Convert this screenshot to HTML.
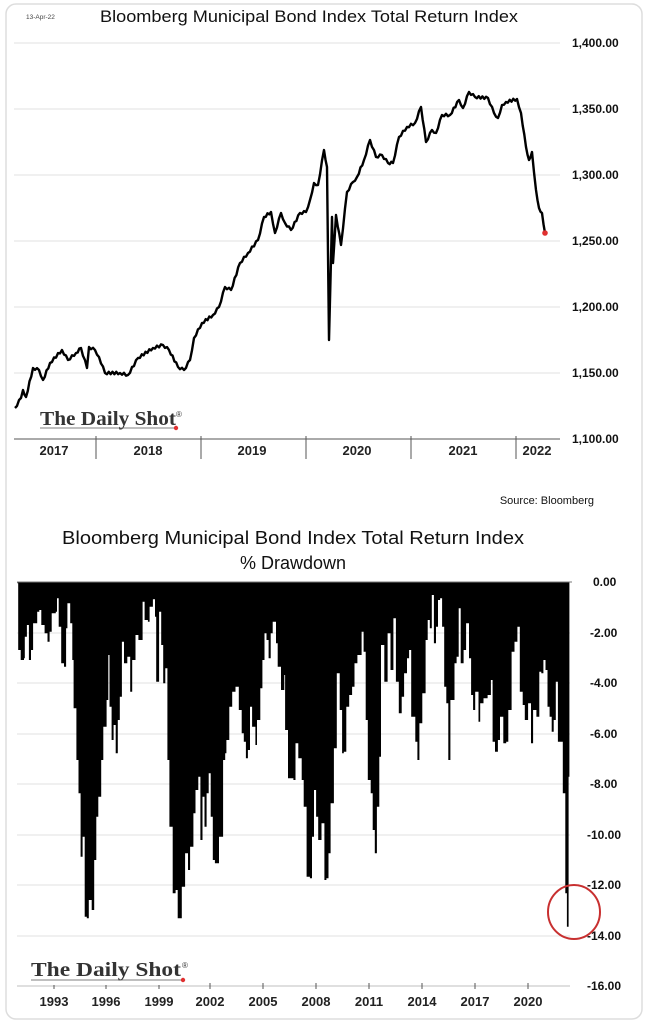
<!DOCTYPE html><html><head><meta charset="utf-8"><style>
body{margin:0;background:#fff;}
svg{display:block;font-family:"Liberation Sans",sans-serif;}
</style></head><body>
<svg id="s" width="648" height="1024" viewBox="0 0 648 1024" xmlns="http://www.w3.org/2000/svg">
<rect x="6" y="4" width="636" height="1015" rx="10" fill="#fff" stroke="#ddd" stroke-width="1.5"/>
<text x="26" y="19" font-size="6.5" fill="#444">13-Apr-22</text>
<text x="309" y="22" font-size="17" text-anchor="middle" fill="#111" textLength="418" lengthAdjust="spacingAndGlyphs">Bloomberg Municipal Bond Index Total Return Index</text>
<g stroke="#e6e6e6" stroke-width="1.2">
<line x1="14" x2="560" y1="43" y2="43"/><line x1="14" x2="560" y1="109" y2="109"/><line x1="14" x2="560" y1="175" y2="175"/><line x1="14" x2="560" y1="241" y2="241"/><line x1="14" x2="560" y1="307" y2="307"/><line x1="14" x2="560" y1="373" y2="373"/>
</g>
<g font-size="12" fill="#111" font-weight="bold">
<text x="572" y="47">1,400.00</text><text x="572" y="113">1,350.00</text><text x="572" y="179">1,300.00</text><text x="572" y="245">1,250.00</text><text x="572" y="311">1,200.00</text><text x="572" y="377">1,150.00</text><text x="572" y="443">1,100.00</text>
</g>
<line x1="14" x2="560" y1="439" y2="439" stroke="#555" stroke-width="1"/>
<g stroke="#555" stroke-width="1"><line x1="96" x2="96" y1="436" y2="459"/><line x1="201" x2="201" y1="436" y2="459"/><line x1="306" x2="306" y1="436" y2="459"/><line x1="411" x2="411" y1="436" y2="459"/><line x1="516" x2="516" y1="436" y2="459"/></g>
<g font-size="13" font-weight="bold" fill="#222" text-anchor="middle">
<text x="54" y="455">2017</text><text x="148" y="455">2018</text><text x="252" y="455">2019</text><text x="357" y="455">2020</text><text x="463" y="455">2021</text><text x="537" y="455">2022</text>
</g>
<polyline id="l1" fill="none" stroke="#000" stroke-width="2.4" stroke-linejoin="round"/>
<circle cx="545" cy="233" r="2.8" fill="#e03030"/>
<text x="40" y="425" font-family="Liberation Serif,serif" font-size="20" font-weight="bold" fill="#333" textLength="136" lengthAdjust="spacingAndGlyphs">The Daily Shot</text>
<text x="176" y="417" font-size="8" fill="#333">®</text>
<line x1="40" x2="176" y1="428" y2="428" stroke="#555" stroke-width="0.8"/>
<circle cx="176" cy="428" r="2.2" fill="#e03030"/>

<text x="594" y="504" font-size="11" text-anchor="end" fill="#111">Source: Bloomberg</text>
<text x="293" y="544" font-size="18" text-anchor="middle" fill="#111" textLength="462" lengthAdjust="spacingAndGlyphs">Bloomberg Municipal Bond Index Total Return Index</text>
<text x="293" y="569" font-size="18" text-anchor="middle" fill="#111">% Drawdown</text>
<g stroke="#e6e6e6" stroke-width="1.2">
<line x1="17" x2="570" y1="633" y2="633"/><line x1="17" x2="570" y1="683" y2="683"/><line x1="17" x2="570" y1="734" y2="734"/><line x1="17" x2="570" y1="784" y2="784"/><line x1="17" x2="570" y1="835" y2="835"/><line x1="17" x2="570" y1="885" y2="885"/><line x1="17" x2="570" y1="936" y2="936"/>
</g>
<path id="dd" fill="#000"/>
<line x1="17" x2="572" y1="582" y2="582" stroke="#777" stroke-width="1"/>
<g font-size="12" fill="#111" font-weight="bold">
<text x="593" y="586">0.00</text><text x="590" y="637">-2.00</text><text x="590" y="687">-4.00</text><text x="590" y="738">-6.00</text><text x="590" y="788">-8.00</text><text x="587" y="839">-10.00</text><text x="587" y="889">-12.00</text><text x="587" y="940">-14.00</text><text x="587" y="990">-16.00</text>
</g>
<line x1="17" x2="570" y1="986" y2="986" stroke="#ccc" stroke-width="1.2"/>
<g stroke="#555"><line x1="54" x2="54" y1="983" y2="989"/><line x1="106" x2="106" y1="983" y2="989"/><line x1="159" x2="159" y1="983" y2="989"/><line x1="210" x2="210" y1="983" y2="989"/><line x1="263" x2="263" y1="983" y2="989"/><line x1="316" x2="316" y1="983" y2="989"/><line x1="369" x2="369" y1="983" y2="989"/><line x1="422" x2="422" y1="983" y2="989"/><line x1="475" x2="475" y1="983" y2="989"/><line x1="528" x2="528" y1="983" y2="989"/></g>
<g font-size="13" font-weight="bold" fill="#222" text-anchor="middle">
<text x="54" y="1006">1993</text><text x="106" y="1006">1996</text><text x="159" y="1006">1999</text><text x="210" y="1006">2002</text><text x="263" y="1006">2005</text><text x="316" y="1006">2008</text><text x="369" y="1006">2011</text><text x="422" y="1006">2014</text><text x="475" y="1006">2017</text><text x="528" y="1006">2020</text>
</g>
<rect x="28" y="955" width="165" height="30" fill="#fff"/>
<text x="31" y="976" font-family="Liberation Serif,serif" font-size="20" font-weight="bold" fill="#333" textLength="150" lengthAdjust="spacingAndGlyphs">The Daily Shot</text>
<text x="182" y="968" font-size="8" fill="#333">®</text>
<line x1="31" x2="183" y1="980" y2="980" stroke="#555" stroke-width="0.8"/>
<circle cx="183" cy="980" r="2.2" fill="#e03030"/>
<ellipse cx="574" cy="912" rx="26" ry="27" fill="none" stroke="#c83030" stroke-width="2"/>
</svg>
<script>
var p1=[[15,408],[21,398],[23,390],[26,397],[33,368],[39,370],[43,380],[50,363],[62,350],[68,360],[76,353],[81,348],[87,368],[89,347],[95,350],[99,357],[105,373],[120,373],[128,375],[138,358],[153,348],[163,345],[169,350],[178,367],[184,370],[190,360],[194,338],[202,323],[213,315],[219,307],[225,287],[231,290],[240,263],[248,253],[258,240],[264,217],[271,212],[275,233],[281,213],[285,223],[291,230],[300,213],[306,212],[310,200],[314,183],[318,185],[324,150],[327,167],[329,340],[332,217],[333,263],[336,215],[341,245],[347,192],[353,182],[357,177],[364,160],[370,140],[376,157],[382,155],[388,163],[393,163],[399,137],[407,127],[415,123],[421,107],[426,142],[432,130],[436,133],[442,115],[450,115],[459,100],[463,108],[469,92],[475,97],[488,98],[494,113],[498,118],[502,105],[506,102],[517,99],[521,113],[526,147],[529,160],[532,152],[536,190],[539,208],[542,213],[545,233]];
var pts=[];for(var i=0;i<p1.length-1;i++){var a=p1[i],b=p1[i+1];var n=Math.max(1,Math.round((b[0]-a[0])/2));for(var k=0;k<n;k++){var t=k/n;var j=(k%2?1:-1)*(n>1?1.2:0);pts.push([(a[0]+(b[0]-a[0])*t).toFixed(1),(a[1]+(b[1]-a[1])*t+(k?j:0)).toFixed(1)]);}}pts.push(p1[p1.length-1]);
document.getElementById('l1').setAttribute('points',pts.map(function(a){return a.join(',')}).join(' '));
var z=[[42,70],[44,270],[50,300],[58,295],[60,230],[65,195],[70,300],[75,270],[80,190],[90,155],[95,150],[100,195],[108,220],[115,245],[120,215],[125,160],[135,155],[138,115],[142,200],[148,310],[155,320],[160,205],[163,130],[170,190],[175,300],[178,445],[185,600],[190,700],[195,890],[200,830],[205,1070],[210,1075],[215,1020],[222,1050],[228,900],[233,770],[238,710],[245,600],[250,500],[258,420],[262,285],[265,440],[270,540],[275,495],[280,580],[285,480],[290,410],[295,245],[300,310],[308,290],[315,395],[320,300],[328,225],[335,240],[345,125],[350,180],[358,185],[362,140],[370,118],[375,170],[378,365],[385,155],[390,255],[395,370],[400,325],[405,600],[410,800],[418,1000],[425,990],[430,1075],[440,980],[448,880],[455,930],[460,860],[468,760],[473,690],[480,650],[485,840],[490,710],[495,800],[500,700],[505,640],[510,770],[515,900],[520,910],[530,830],[540,600],[545,580],[548,540],[555,440],[562,395],[570,380],[578,450],[585,520],[590,545],[595,595],[600,570],[605,440],[610,500],[618,555],[622,480],[630,385],[635,300],[640,220],[645,240],[650,295],[655,220],[660,185],[668,250],[672,320],[680,390],[688,345],[690,510],[697,655],[710,660],[715,550],[722,595],[730,660],[735,740],[742,950],[750,955],[755,830],[760,690],[765,770],[770,840],[778,790],[785,960],[790,955],[795,880],[800,730],[808,565],[815,340],[822,450],[828,580],[832,575],[838,440],[845,405],[852,380],[858,310],[865,285],[875,215],[880,275],[885,480],[890,660],[897,700],[902,810],[907,880],[912,740],[918,590],[922,255],[930,365],[938,220],[945,330],[952,175],[958,365],[965,460],[972,410],[978,340],[985,295],[990,270],[995,470],[1005,545],[1010,600],[1015,490],[1022,400],[1030,240],[1035,180],[1040,205],[1045,105],[1050,250],[1055,200],[1060,120],[1065,115],[1070,200],[1075,380],[1080,430],[1085,600],[1090,420],[1100,310],[1105,290],[1110,145],[1115,310],[1122,270],[1128,190],[1135,295],[1140,405],[1145,450],[1150,395],[1158,485],[1162,430],[1170,415],[1180,405],[1188,360],[1192,545],[1198,575],[1205,540],[1210,470],[1218,550],[1225,545],[1230,450],[1238,275],[1245,245],[1252,200],[1258,395],[1265,435],[1270,480],[1278,430],[1285,550],[1290,450],[1298,470],[1305,335],[1310,340],[1315,300],[1320,330],[1325,440],[1330,470],[1335,515],[1340,480],[1345,365],[1350,545],[1360,545],[1362,700],[1368,1000],[1372,1100],[1376,650],[1378,70]];
var d='M17,582';
z.forEach(function(a){var x=(a[0]/2.42).toFixed(1),y=(560+a[1]/3).toFixed(1);d+=' H'+x+' V'+y;});
d+=' V582 Z';
document.getElementById('dd').setAttribute('d',d);
</script>
</body></html>
